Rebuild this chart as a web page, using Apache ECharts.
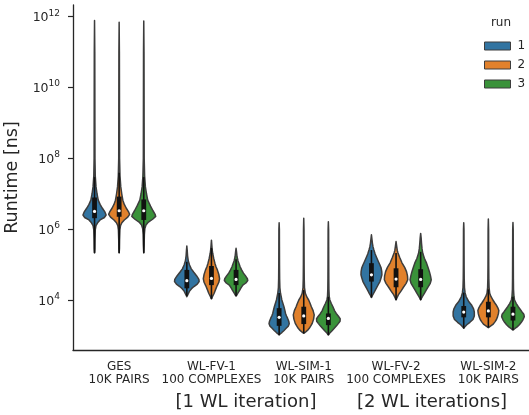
<!DOCTYPE html>
<html>
<head>
<meta charset="utf-8">
<script src="https://cdn.jsdelivr.net/npm/echarts@6/dist/echarts.min.js"></script>
<style>
  html, body { margin: 0; padding: 0; background: #ffffff; }
  #chart { width: 529px; height: 415px; }
</style>
</head>
<body>
<div id="chart"></div>
<script>
// Benchmarks on the x axis; runtime values are log10(ns).
const categories = ['GES\n10K PAIRS', 'WL-FV-1\n100 COMPLEXES', 'WL-SIM-1\n10K PAIRS', 'WL-FV-2\n100 COMPLEXES', 'WL-SIM-2\n10K PAIRS'];
const runs = ['1', '2', '3'];
const runColors = ['#3274a1', '#e1812c', '#3a923a'];
const yTickExponents = [4, 6, 8, 10, 12];
const groupLabels = ['[1 WL iteration]', '[2 WL iterations]'];

// Box statistics, one row per run, one column per benchmark (log10 ns).
const medians = [
  [6.50, 4.545, 3.51, 4.71, 3.66],
  [6.52, 4.61, 3.55, 4.59, 3.69],
  [6.52, 4.58, 3.48, 4.58, 3.60]
];
const lowerQuartiles = [
  [6.31, 4.33, 3.27, 4.52, 3.51],
  [6.35, 4.42, 3.32, 4.36, 3.51],
  [6.26, 4.42, 3.29, 4.36, 3.42]
];
const upperQuartiles = [
  [6.895, 4.85, 3.77, 5.04, 3.83],
  [6.92, 4.96, 3.81, 4.895, 3.95],
  [6.84, 4.85, 3.62, 4.87, 3.81]
];
const whiskerLow = [
  [5.33, 4.11, 3.01, 4.07, 3.20],
  [5.33, 4.03, 3.06, 4.00, 3.22],
  [5.33, 4.11, 3.01, 4.00, 3.15]
];
const whiskerHigh = [
  [7.47, 5.08, 4.20, 5.41, 4.21],
  [7.59, 5.47, 4.28, 5.33, 4.30],
  [7.47, 5.15, 4.09, 5.36, 4.09]
];

// Density outlines: [log10 ns, half-width relative to the widest violin].
const densityRun1 = [
  [[11.89,0],[11,0.02],[10,0.025],[9,0.03],[8,0.035],[7.5,0.06],[7.2,0.12],[7.0,0.2],[6.82,0.3],[6.7,0.45],[6.59,0.64],[6.48,0.85],[6.4,0.94],[6.33,0.8],[6.26,0.45],[6.18,0.25],[6.1,0.12],[5.98,0.06],[5.7,0.035],[5.45,0.025],[5.33,0]],
  [[5.525,0],[5.4,0.03],[5.25,0.06],[5.1,0.12],[4.99,0.22],[4.88,0.36],[4.79,0.55],[4.68,0.8],[4.58,0.98],[4.52,1.0],[4.45,0.85],[4.38,0.58],[4.32,0.38],[4.25,0.22],[4.18,0.12],[4.12,0.04],[4.09,0]],
  [[6.18,0],[6.0,0.02],[5.5,0.025],[5.0,0.03],[4.6,0.04],[4.35,0.06],[4.19,0.11],[4.0,0.22],[3.81,0.39],[3.7,0.47],[3.62,0.52],[3.55,0.6],[3.48,0.69],[3.4,0.78],[3.33,0.82],[3.26,0.74],[3.2,0.57],[3.14,0.4],[3.08,0.22],[3.04,0.08],[3.01,0]],
  [[5.84,0],[5.72,0.04],[5.6,0.08],[5.5,0.13],[5.41,0.2],[5.3,0.3],[5.2,0.42],[5.08,0.57],[4.98,0.7],[4.9,0.79],[4.8,0.84],[4.71,0.85],[4.62,0.78],[4.52,0.69],[4.43,0.55],[4.33,0.39],[4.25,0.27],[4.19,0.18],[4.12,0.07],[4.07,0]],
  [[6.18,0],[6.0,0.02],[5.5,0.025],[5.0,0.03],[4.6,0.04],[4.35,0.06],[4.2,0.11],[4.09,0.2],[3.95,0.42],[3.85,0.65],[3.75,0.8],[3.66,0.86],[3.55,0.86],[3.45,0.75],[3.37,0.5],[3.3,0.25],[3.24,0.08],[3.2,0]]
];
const densityRun2 = [
  [[11.84,0],[11,0.02],[10,0.025],[9,0.03],[8,0.035],[7.5,0.07],[7.2,0.13],[7.0,0.21],[6.82,0.3],[6.7,0.42],[6.59,0.58],[6.48,0.78],[6.42,0.85],[6.34,0.7],[6.26,0.42],[6.18,0.22],[6.1,0.11],[5.98,0.06],[5.7,0.035],[5.45,0.025],[5.33,0]],
  [[5.69,0],[5.55,0.03],[5.42,0.06],[5.32,0.1],[5.18,0.18],[5.04,0.28],[4.94,0.37],[4.85,0.48],[4.72,0.6],[4.6,0.66],[4.5,0.6],[4.4,0.46],[4.3,0.34],[4.19,0.22],[4.1,0.09],[4.03,0]],
  [[6.31,0],[6.0,0.02],[5.5,0.025],[5.0,0.03],[4.6,0.04],[4.35,0.06],[4.19,0.13],[4.08,0.26],[4.0,0.4],[3.9,0.52],[3.81,0.62],[3.7,0.76],[3.58,0.85],[3.46,0.8],[3.34,0.69],[3.26,0.56],[3.2,0.45],[3.14,0.3],[3.1,0.16],[3.06,0]],
  [[5.65,0],[5.52,0.05],[5.4,0.1],[5.33,0.16],[5.2,0.3],[5.05,0.48],[4.92,0.7],[4.8,0.85],[4.68,0.93],[4.57,0.95],[4.47,0.82],[4.36,0.6],[4.25,0.4],[4.15,0.2],[4.06,0.07],[4.0,0]],
  [[6.29,0],[6.0,0.02],[5.5,0.025],[5.0,0.03],[4.6,0.04],[4.35,0.06],[4.19,0.11],[4.1,0.21],[4.0,0.37],[3.93,0.5],[3.86,0.64],[3.78,0.77],[3.7,0.85],[3.62,0.82],[3.53,0.75],[3.45,0.66],[3.39,0.55],[3.32,0.4],[3.27,0.2],[3.22,0]]
];
const densityRun3 = [
  [[11.88,0],[11,0.02],[10,0.025],[9,0.03],[8,0.035],[7.5,0.07],[7.2,0.13],[7.0,0.22],[6.82,0.32],[6.65,0.55],[6.52,0.75],[6.42,0.92],[6.36,0.97],[6.28,0.72],[6.2,0.38],[6.12,0.18],[6.02,0.09],[5.85,0.05],[5.55,0.03],[5.33,0]],
  [[5.46,0],[5.35,0.04],[5.22,0.08],[5.1,0.16],[5.04,0.23],[4.94,0.33],[4.85,0.45],[4.76,0.6],[4.68,0.77],[4.6,0.92],[4.55,0.95],[4.48,0.8],[4.42,0.55],[4.34,0.4],[4.28,0.3],[4.2,0.16],[4.14,0.06],[4.11,0]],
  [[6.21,0],[6.0,0.02],[5.5,0.025],[5.0,0.03],[4.6,0.035],[4.3,0.045],[4.1,0.07],[4.0,0.12],[3.9,0.24],[3.81,0.37],[3.7,0.5],[3.62,0.64],[3.54,0.82],[3.47,0.96],[3.4,0.95],[3.34,0.82],[3.27,0.66],[3.2,0.48],[3.13,0.3],[3.06,0.1],[3.01,0]],
  [[5.88,0],[5.75,0.04],[5.6,0.07],[5.45,0.11],[5.32,0.17],[5.18,0.3],[5.04,0.48],[4.92,0.6],[4.8,0.71],[4.68,0.8],[4.57,0.86],[4.47,0.78],[4.375,0.62],[4.28,0.45],[4.19,0.3],[4.1,0.15],[4.04,0.05],[4.0,0]],
  [[6.19,0],[6.0,0.02],[5.5,0.025],[5.0,0.03],[4.6,0.035],[4.3,0.045],[4.1,0.08],[4.0,0.13],[3.9,0.27],[3.81,0.43],[3.74,0.58],[3.67,0.72],[3.6,0.88],[3.53,0.92],[3.44,0.81],[3.37,0.68],[3.3,0.52],[3.24,0.34],[3.19,0.14],[3.15,0]]
];
const densities = [densityRun1, densityRun2, densityRun3];

const textColor = '#262626';
const edgeColor = '#3d3d3d';
const innerColor = '#111111';
const dodgeWidth = 0.8;

function renderViolin(params, api) {
  const run = params.seriesIndex;
  const cat = api.value(0);
  const band = api.size([1, 0])[0];
  const slot = band * dodgeWidth / runs.length;
  const cx = api.coord([cat, 0])[0] + (run - (runs.length - 1) / 2) * slot;
  const maxHalf = slot / 2;
  const yOf = v => api.coord([cat, v])[1];

  const profile = densities[run][cat];
  const right = profile.map(p => [cx + p[1] * maxHalf, yOf(p[0])]);
  const left = profile.slice().reverse().map(p => [cx - p[1] * maxHalf, yOf(p[0])]);

  return {
    type: 'group',
    children: [
      {
        type: 'polygon',
        shape: { points: right.concat(left) },
        style: { fill: runColors[run], stroke: edgeColor, lineWidth: 1.5, lineJoin: 'round' }
      },
      {
        type: 'line',
        shape: { x1: cx, y1: yOf(whiskerLow[run][cat]), x2: cx, y2: yOf(whiskerHigh[run][cat]) },
        style: { stroke: innerColor, lineWidth: 1.6 }
      },
      {
        type: 'line',
        shape: { x1: cx, y1: yOf(lowerQuartiles[run][cat]), x2: cx, y2: yOf(upperQuartiles[run][cat]) },
        style: { stroke: innerColor, lineWidth: 4.8 }
      },
      {
        type: 'circle',
        shape: { cx: cx, cy: yOf(medians[run][cat]), r: 1.6 },
        style: { fill: '#ffffff' }
      }
    ]
  };
}

const chart = echarts.init(document.getElementById('chart'), null, { renderer: 'canvas' });

chart.setOption({
  animation: false,
  backgroundColor: '#ffffff',
  grid: { left: 73, right: -5.5, top: 5, bottom: 65, containLabel: false, outerBoundsMode: 'none' },
  legend: {
    data: runs,
    orient: 'vertical',
    left: 479,
    top: 34,
    icon: 'rect',
    itemWidth: 26,
    itemHeight: 8,
    itemGap: 5,
    itemStyle: { borderColor: edgeColor, borderWidth: 1 },
    textStyle: { fontFamily: 'DejaVu Sans', fontSize: 12, color: textColor, lineHeight: 14, padding: [0, 0, 0, 2] },
    selectedMode: false
  },
  xAxis: {
    type: 'category',
    data: categories,
    boundaryGap: true,
    axisLine: { lineStyle: { color: textColor, width: 1.3 } },
    axisTick: { alignWithLabel: true, length: 5, lineStyle: { color: textColor, width: 1.2 } },
    axisLabel: {
      interval: 0,
      margin: 10,
      fontFamily: 'DejaVu Sans',
      fontSize: 12,
      lineHeight: 13.5,
      color: textColor
    },
    splitLine: { show: false }
  },
  yAxis: {
    type: 'value',
    min: 2.588,
    max: 12.33,
    name: 'Runtime [ns]',
    nameLocation: 'middle',
    nameGap: 48,
    nameTextStyle: { fontFamily: 'DejaVu Sans', fontSize: 17.5, color: textColor },
    axisLine: { show: true, lineStyle: { color: textColor, width: 1.3 } },
    axisTick: { show: true, length: 5, customValues: yTickExponents, lineStyle: { color: textColor, width: 1.2 } },
    axisLabel: {
      customValues: yTickExponents,
      margin: 13,
      formatter: v => '{b|10}{s|' + v + '}',
      rich: {
        b: { fontFamily: 'DejaVu Sans', fontSize: 12.5, color: textColor, lineHeight: 16, verticalAlign: 'bottom' },
        s: { fontFamily: 'DejaVu Sans', fontSize: 9, color: textColor, lineHeight: 10, verticalAlign: 'top' }
      }
    },
    splitLine: { show: false }
  },
  graphic: [
    {
      type: 'text',
      style: { x: 501, y: 23, text: 'run', fontFamily: 'DejaVu Sans', fontSize: 12, fill: textColor, align: 'center', verticalAlign: 'middle' }
    },
    {
      type: 'text',
      style: { x: 246, y: 402, text: groupLabels[0], fontFamily: 'DejaVu Sans', fontSize: 18, fill: textColor, align: 'center', verticalAlign: 'middle' }
    },
    {
      type: 'text',
      style: { x: 432, y: 402, text: groupLabels[1], fontFamily: 'DejaVu Sans', fontSize: 18, fill: textColor, align: 'center', verticalAlign: 'middle' }
    }
  ],
  series: runs.map((name, r) => ({
    type: 'custom',
    name: name,
    itemStyle: { color: runColors[r] },
    encode: { x: 0, y: 1 },
    data: categories.map((c, i) => [i, medians[r][i]]),
    renderItem: renderViolin
  }))
});
</script>
</body>
</html>
